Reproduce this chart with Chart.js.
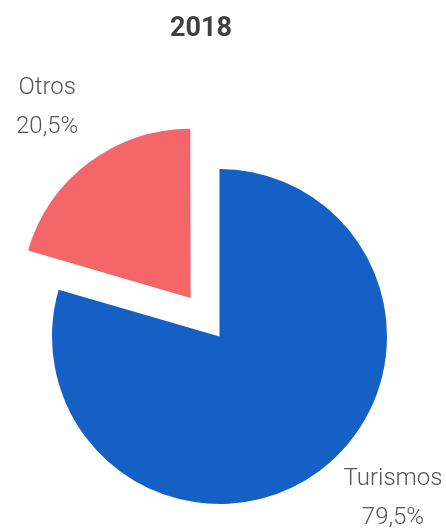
<!DOCTYPE html>
<html>
<head>
<meta charset="utf-8">
<script src="https://cdn.jsdelivr.net/npm/chart.js@4"></script>
<style>
  body { margin: 0; background: #fff; }
  canvas { display: block; }
</style>
</head>
<body>
<canvas id="pieTurismos" width="446" height="530"></canvas>
<script>
const categories = ['Turismos', 'Otros'];
const shares = [79.5, 20.5];
const chartTitle = '2018';
const sliceColors = ['#1560c5', '#f5666a'];

const SHIFT_PX = 50;        // how far "Otros" is pulled out
const LABEL_DIST = 1.415;   // label distance, relative to radius
const total = shares.reduce(function (a, b) { return a + b; }, 0);

// chart.js translates an arc by offset/4 * (1 + (1 - sin(circ))), so undo that
function offsetFor(i) {
  if (i !== 1) return 0;
  const circ = shares[i] / total * Math.PI * 2;
  const fix = 1 - Math.sin(Math.min(Math.PI, circ));
  return SHIFT_PX * 4 / (1 + fix);
}

function fmt(v) {
  return v.toFixed(1).replace('.', ',') + '%';
}

const textPlugin = {
  id: 'texts',
  afterDatasetsDraw: function (chart) {
    const ctx = chart.ctx;
    const H = chart.height;
    ctx.save();
    // title
    ctx.fillStyle = '#404040';
    ctx.font = 'bold 27px Roboto, "Noto Sans", sans-serif';
    ctx.textAlign = 'center';
    ctx.textBaseline = 'alphabetic';
    ctx.fillText(chartTitle, 201, 36);

    // slice labels
    ctx.fillStyle = '#555555';
    ctx.font = '300 24px Roboto, "Noto Sans", sans-serif';
    ctx.textBaseline = 'middle';
    chart.getDatasetMeta(0).data.forEach(function (arc, i) {
      const mid = (arc.startAngle + arc.endAngle) / 2;
      const shift = (i === 1) ? SHIFT_PX : 0;
      const cx = arc.x + Math.cos(mid) * shift;
      const cy = arc.y + Math.sin(mid) * shift;
      const d = arc.outerRadius * LABEL_DIST;
      let x = cx + Math.cos(mid) * d;
      let y = cy + Math.sin(mid) * d;
      const maxY = H - 32, minY = 32;
      if (y > maxY || y < minY) {
        // keep the label inside the canvas, sliding along the same radius
        y = Math.min(maxY, Math.max(minY, y));
        const dy = y - cy;
        const dx = Math.sqrt(Math.max(0, d * d - dy * dy));
        x = cx + (Math.cos(mid) >= 0 ? dx : -dx);
      }
      ctx.fillText(categories[i], x, y - 19);
      ctx.fillText(fmt(shares[i]), x, y + 20);
    });
    ctx.restore();
  }
};

new Chart(document.getElementById('pieTurismos').getContext('2d'), {
  type: 'pie',
  data: {
    labels: categories,
    datasets: [{
      data: shares,
      backgroundColor: sliceColors,
      borderWidth: 0,
      hoverOffset: 0,
      offset: function (c) { return offsetFor(c.dataIndex); }
    }]
  },
  options: {
    responsive: false,
    animation: false,
    events: [],
    radius: 167.5,
    layout: { padding: { top: 150, bottom: 7, left: 0, right: 7 } },
    plugins: {
      legend: { display: false },
      title: { display: false },
      tooltip: { enabled: false }
    }
  },
  plugins: [textPlugin]
});
</script>
</body>
</html>
